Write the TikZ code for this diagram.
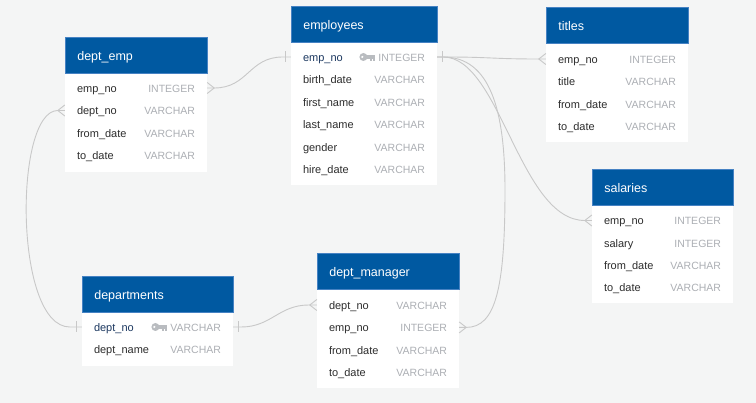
\documentclass[tikz,border=0pt]{standalone}
\usepackage{fontspec}
\setmainfont{Liberation Sans}
\usetikzlibrary{calc}

\definecolor{bg}{RGB}{244,245,245}
\definecolor{hdrblue}{RGB}{0,89,161}
\definecolor{hdrline}{RGB}{70,130,195}
\definecolor{fieldc}{RGB}{45,45,45}
\definecolor{pkc}{RGB}{28,56,96}
\definecolor{typec}{RGB}{172,175,180}
\definecolor{linec}{RGB}{200,200,200}
\definecolor{keyc}{RGB}{185,188,192}

% push the column type to the right edge of a row
\newcommand\pushright{\hspace{0pt plus 1filll}}
\newcommand\coltype[1]{{\color{typec}\fontsize{10.5}{12}\selectfont #1}}
\newcommand\pkfield[1]{{\color{pkc}#1}}

\begin{document}
\begin{tikzpicture}[x=1pt,y=-1pt,
  hdr/.style={anchor=north west, fill=hdrblue, draw=hdrline, line width=0.6pt,
    text=white, font=\fontsize{12.5}{15}\selectfont, inner xsep=12pt,
    inner ysep=0pt, minimum height=36pt, text height=10pt, text depth=0pt},
  tbody/.style={anchor=north west, fill=white, inner sep=0pt},
  row/.style={inner xsep=12pt, inner ysep=0pt, text height=9.5pt,
    text depth=0.5pt, font=\fontsize{11}{13}\selectfont, text=fieldc},
  conn/.style={draw=linec, line width=0.9pt},
  pics/crow/.style={code={\draw[conn] (0,-5.5) -- (7,0) -- (0,5.5);}},
  pics/onebar/.style={code={\draw[conn] (5,-5.5) -- (5,5.5);}},
  pics/pkey/.style={code={
    \fill[keyc] (-3.8,0) circle (4);
    \fill[keyc] (-1,-1.6) rectangle (7.5,1.6);
    \fill[keyc] (3,1.6) rectangle (4.6,3.6);
    \fill[keyc] (5.8,1.6) rectangle (7.5,3.6);
    \fill[white] (-4.9,0) circle (1.2);
  }}]

% canvas
\fill[bg] (0,0) rectangle (756,403);
\useasboundingbox (0,0) rectangle (756,403);

% ---------------- dept_emp ----------------
\node[tbody, minimum width=142pt, minimum height=99pt] (de-body) at (65,73) {};
\node[hdr, text width=118pt] (de) at (65,37) {dept\_emp};
\node[row, text width=118pt] (de-empno)  at (136,88)    {emp\_no\pushright\coltype{INTEGER}};
\node[row, text width=118pt] (de-deptno) at (136,110.5) {dept\_no\pushright\coltype{VARCHAR}};
\node[row, text width=118pt] (de-from)   at (136,133)   {from\_date\pushright\coltype{VARCHAR}};
\node[row, text width=118pt] (de-to)     at (136,155.5) {to\_date\pushright\coltype{VARCHAR}};

% ---------------- employees ----------------
\node[tbody, minimum width=146pt, minimum height=143pt] (em-body) at (291,42) {};
\node[hdr, text width=122pt] (em) at (291,6) {employees};
\node[row, text width=122pt] (em-empno) at (364,57)    {\pkfield{emp\_no}\pushright\coltype{INTEGER}};
\node[row, text width=122pt] (em-birth) at (364,79.4)  {birth\_date\pushright\coltype{VARCHAR}};
\node[row, text width=122pt] (em-first) at (364,101.8) {first\_name\pushright\coltype{VARCHAR}};
\node[row, text width=122pt] (em-last)  at (364,124.2) {last\_name\pushright\coltype{VARCHAR}};
\node[row, text width=122pt] (em-gend)  at (364,146.6) {gender\pushright\coltype{VARCHAR}};
\node[row, text width=122pt] (em-hire)  at (364,169)   {hire\_date\pushright\coltype{VARCHAR}};
\pic at ($(em-empno.east)+(-70,0)$) {pkey};

% ---------------- titles ----------------
\node[tbody, minimum width=142pt, minimum height=99pt] (ti-body) at (546,43) {};
\node[hdr, text width=118pt] (ti) at (546,7) {titles};
\node[row, text width=118pt] (ti-empno) at (617,59)    {emp\_no\pushright\coltype{INTEGER}};
\node[row, text width=118pt] (ti-title) at (617,81.4)  {title\pushright\coltype{VARCHAR}};
\node[row, text width=118pt] (ti-from)  at (617,103.8) {from\_date\pushright\coltype{VARCHAR}};
\node[row, text width=118pt] (ti-to)    at (617,126.2) {to\_date\pushright\coltype{VARCHAR}};

% ---------------- salaries ----------------
\node[tbody, minimum width=141pt, minimum height=98pt] (sa-body) at (592,205) {};
\node[hdr, text width=117pt] (sa) at (592,169) {salaries};
\node[row, text width=117pt] (sa-empno)  at (662.5,220.5) {emp\_no\pushright\coltype{INTEGER}};
\node[row, text width=117pt] (sa-salary) at (662.5,242.7) {salary\pushright\coltype{INTEGER}};
\node[row, text width=117pt] (sa-from)   at (662.5,265)   {from\_date\pushright\coltype{VARCHAR}};
\node[row, text width=117pt] (sa-to)     at (662.5,287.2) {to\_date\pushright\coltype{VARCHAR}};

% ---------------- departments ----------------
\node[tbody, minimum width=151pt, minimum height=54pt] (dp-body) at (82,312) {};
\node[hdr, text width=127pt] (dp) at (82,276) {departments};
\node[row, text width=127pt] (dp-deptno) at (157.5,327)   {\pkfield{dept\_no}\pushright\coltype{VARCHAR}};
\node[row, text width=127pt] (dp-name)   at (157.5,349.5) {dept\_name\pushright\coltype{VARCHAR}};
\pic at ($(dp-deptno.east)+(-74,0)$) {pkey};

% ---------------- dept_manager ----------------
\node[tbody, minimum width=142pt, minimum height=99pt] (mg-body) at (317,289) {};
\node[hdr, text width=118pt] (mg) at (317,253) {dept\_manager};
\node[row, text width=118pt] (mg-deptno) at (388,305)   {dept\_no\pushright\coltype{VARCHAR}};
\node[row, text width=118pt] (mg-empno)  at (388,327.4) {emp\_no\pushright\coltype{INTEGER}};
\node[row, text width=118pt] (mg-from)   at (388,349.8) {from\_date\pushright\coltype{VARCHAR}};
\node[row, text width=118pt] (mg-to)     at (388,372.2) {to\_date\pushright\coltype{VARCHAR}};

% ---------------- relationships ----------------
\coordinate (bend) at (505,190);

% dept_emp.emp_no >-- employees.emp_no
\draw[conn] (de-empno.east) -- ++(7,0) .. controls +(34,0) and +(-34,0)
  .. ($(em-empno.west)+(-8,0)$) -- (em-empno.west);
\pic at (de-empno.east) {crow};
\pic[xscale=-1] at (em-empno.west) {onebar};

% dept_emp.dept_no >-- departments.dept_no
\draw[conn] (de-deptno.west) -- ++(-7,0) .. controls +(-44,0) and +(-56,0)
  .. ($(dp-deptno.west)+(-12,0)$) -- (dp-deptno.west);
\pic[xscale=-1] at (de-deptno.west) {crow};
\pic[xscale=-1] at (dp-deptno.west) {onebar};

% departments.dept_no --< dept_manager.dept_no
\draw[conn] (dp-deptno.east) -- ++(8,0) .. controls +(30,0) and +(-30,0)
  .. ($(mg-deptno.west)+(-8,0)$) -- (mg-deptno.west);
\pic at (dp-deptno.east) {onebar};
\pic[xscale=-1] at (mg-deptno.west) {crow};

% employees.emp_no --< titles.emp_no
\draw[conn] (em-empno.east) -- ++(8,0) .. controls +(45,0) and +(-45,0)
  .. ($(ti-empno.west)+(-8,0)$) -- (ti-empno.west);
\pic[xscale=-1] at (ti-empno.west) {crow};

% employees.emp_no --< salaries.emp_no
\draw[conn] (em-empno.east) -- ++(6,0) .. controls +(57,0) and +(-65,0)
  .. ($(sa-empno.west)+(-7,0)$) -- (sa-empno.west);
\pic[xscale=-1] at (sa-empno.west) {crow};

% employees.emp_no --< dept_manager.emp_no
\draw[conn] (em-empno.east) -- ++(6,0) .. controls +(47,0) and +(0,-80)
  .. (bend) .. controls +(0,100) and +(29,0)
  .. ($(mg-empno.east)+(7,0)$) -- (mg-empno.east);
\pic at (mg-empno.east) {crow};
\pic at (em-empno.east) {onebar};

\end{tikzpicture}
\end{document}
